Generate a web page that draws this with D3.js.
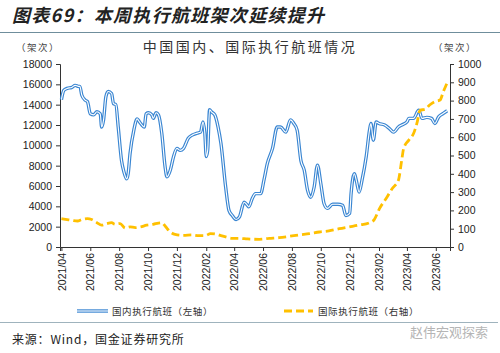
<!DOCTYPE html>
<html>
<head>
<meta charset="utf-8">
<script src="https://cdn.jsdelivr.net/npm/d3@7"></script>
<style>
  html, body { margin: 0; padding: 0; background: #fff; }
  svg { display: block; font-family: "Liberation Sans", Arial, sans-serif; }
  .cjk { font-family: "Noto Sans CJK SC", sans-serif; }
</style>
</head>
<body>
<svg id="chart" width="500" height="353"></svg>
<script>
  'use strict';

  // 国内执行航班（左轴）
  const domDates = [
    '2021-04-01', '2021-04-06', '2021-04-13', '2021-04-23', '2021-04-30', '2021-05-07', '2021-05-10',
    '2021-05-14', '2021-05-21', '2021-05-26', '2021-06-01', '2021-06-08', '2021-06-15', '2021-06-22',
    '2021-06-25', '2021-06-29', '2021-07-04', '2021-07-09', '2021-07-16', '2021-07-20', '2021-07-25',
    '2021-07-30', '2021-08-06', '2021-08-11', '2021-08-17', '2021-08-20', '2021-08-24', '2021-09-01',
    '2021-09-08', '2021-09-13', '2021-09-18', '2021-09-23', '2021-09-27', '2021-10-02', '2021-10-09',
    '2021-10-12', '2021-10-18', '2021-10-23', '2021-10-30', '2021-11-06', '2021-11-10', '2021-11-17',
    '2021-11-24', '2021-12-01', '2021-12-08', '2021-12-15', '2021-12-25', '2022-01-02', '2022-01-13',
    '2022-01-20', '2022-01-25', '2022-01-29', '2022-02-01', '2022-02-04', '2022-02-08', '2022-02-12',
    '2022-02-19', '2022-02-26', '2022-03-04', '2022-03-14', '2022-03-21', '2022-03-28', '2022-04-05',
    '2022-04-12', '2022-04-22', '2022-04-29', '2022-05-02', '2022-05-09', '2022-05-16', '2022-05-27',
    '2022-06-03', '2022-06-10', '2022-06-21', '2022-07-01', '2022-07-08', '2022-07-19', '2022-07-29',
    '2022-08-05', '2022-08-12', '2022-08-20', '2022-08-27', '2022-09-03', '2022-09-10', '2022-09-17',
    '2022-09-24', '2022-10-01', '2022-10-08', '2022-10-15', '2022-10-26', '2022-11-06', '2022-11-16',
    '2022-11-23', '2022-12-01', '2022-12-04', '2022-12-11', '2022-12-15', '2022-12-21', '2022-12-27',
    '2023-01-05', '2023-01-12', '2023-01-15', '2023-01-20', '2023-01-26', '2023-02-01', '2023-02-13',
    '2023-02-23', '2023-03-04', '2023-03-14', '2023-03-21', '2023-04-01', '2023-04-05', '2023-04-15',
    '2023-04-26', '2023-05-03', '2023-05-13', '2023-05-23', '2023-05-30', '2023-06-07', '2023-06-17',
    '2023-06-25'
  ];
  const domValues = [
    14500, 15400, 15600, 15700, 15900, 15800, 15800,
    14950, 14450, 14300, 13100, 13000, 13300, 13100,
    11800, 12500, 14800, 15300, 15100, 14100, 14000,
    11800, 8500, 7400, 6700, 7200, 9200, 11500,
    12600, 12300, 12000, 11800, 13100, 13200, 13000,
    12650, 13200, 13000, 11200, 7900, 6900, 7550,
    8900, 9700, 9500, 9700, 10700, 11000, 11200,
    11300, 12300, 11200, 8900, 9500, 13500, 13300,
    13000, 11800, 10200, 5900, 3600, 3100, 2700,
    2950, 4400, 4100, 3950, 4750, 5250, 5250,
    6600, 8200, 9700, 11800, 11800, 11300, 12500,
    12150, 11500, 8500, 7550, 5600, 4900, 5900,
    8050, 6250, 4250, 3800, 4200, 4200, 4100,
    3100, 3300, 5250, 7200, 6550, 5400, 6550,
    8900, 11500, 12150, 10500, 12300, 12150, 12000,
    11650, 11300, 11800, 12000, 12300, 12650, 12650,
    13450, 12650, 12750, 12650, 12150, 12800, 13150,
    13400
  ];

  // 国际执行航班（右轴）
  const intDates = [
    '2021-04-01', '2021-04-13', '2021-04-23', '2021-05-05', '2021-05-14', '2021-05-26', '2021-06-04',
    '2021-06-15', '2021-06-25', '2021-07-06', '2021-07-16', '2021-07-23', '2021-08-03', '2021-08-14',
    '2021-08-24', '2021-09-04', '2021-09-15', '2021-09-28', '2021-10-12', '2021-10-23', '2021-10-30',
    '2021-11-06', '2021-11-17', '2021-11-27', '2021-12-15', '2022-01-02', '2022-01-16', '2022-01-30',
    '2022-02-10', '2022-02-24', '2022-03-04', '2022-03-14', '2022-03-28', '2022-04-12', '2022-04-29',
    '2022-05-24', '2022-06-14', '2022-07-05', '2022-07-26', '2022-08-16', '2022-09-07', '2022-09-28',
    '2022-10-18', '2022-11-09', '2022-11-30', '2022-12-21', '2023-01-12', '2023-01-22', '2023-02-02',
    '2023-02-16', '2023-03-01', '2023-03-14', '2023-03-21', '2023-03-25', '2023-04-05', '2023-04-15',
    '2023-04-22', '2023-04-29', '2023-05-09', '2023-05-19', '2023-05-30', '2023-06-10', '2023-06-17',
    '2023-06-25'
  ];
  const intValues = [
    155, 150, 146, 142, 150, 155, 150,
    133, 119, 128, 133, 124, 128, 104,
    110, 106, 110, 119, 124, 131, 133,
    115, 82, 69, 64, 66, 62, 62,
    73, 69, 62, 55, 47, 47, 44,
    42, 47, 51, 58, 66, 73, 82,
    88, 100, 110, 120, 133, 150, 210,
    265, 320, 365, 475, 538, 584, 620,
    675, 748, 752, 776, 794, 803, 849,
    898
  ];

  const tickDates = [
    '2021-04-01', '2021-06-01', '2021-08-01', '2021-10-01', '2021-12-01', '2022-02-01', '2022-04-01',
    '2022-06-01', '2022-08-01', '2022-10-01', '2022-12-01', '2023-02-01', '2023-04-01', '2023-06-01'
  ];
  const leftTicks = [0, 2000, 4000, 6000, 8000, 10000, 12000, 14000, 16000, 18000];
  const rightTicks = [0, 100, 200, 300, 400, 500, 600, 700, 800, 900, 1000];

  const parse = d3.timeParse('%Y-%m-%d');
  const domSeries = domDates.map(function (d, i) { return { date: parse(d), value: domValues[i] }; });
  const intSeries = intDates.map(function (d, i) { return { date: parse(d), value: intValues[i] }; });

  const svg = d3.select('#chart');
  const plotLeft = 60, plotRight = 450, plotTop = 64, plotBottom = 247;

  const x = d3.scaleTime()
    .domain([parse('2021-03-29'), parse('2023-07-01')])
    .range([plotLeft, plotRight]);
  const yL = d3.scaleLinear().domain([0, 18000]).range([plotBottom, plotTop]);
  const yR = d3.scaleLinear().domain([0, 1000]).range([plotBottom, plotTop]);

  const BLUE = '#3a86d2';
  const GOLD = '#ffc000';
  const LINE = '#6f8e9c';

  // header
  svg.append('text')
    .attr('class', 'cjk')
    .attr('x', 12).attr('y', 22)
    .attr('font-size', 18).attr('font-weight', 'bold').attr('font-style', 'italic')
    .attr('letter-spacing', 1.3)
    .attr('fill', '#222')
    .text('图表69：本周执行航班架次延续提升');
  svg.append('line')
    .attr('x1', 0).attr('x2', 500).attr('y1', 32.5).attr('y2', 32.5)
    .attr('stroke', LINE).attr('stroke-width', 1.2);

  svg.append('text')
    .attr('class', 'cjk')
    .attr('x', 250).attr('y', 52).attr('text-anchor', 'middle')
    .attr('font-size', 14).attr('letter-spacing', 2.5)
    .attr('fill', '#333')
    .text('中国国内、国际执行航班情况');
  svg.append('text')
    .attr('class', 'cjk')
    .attr('x', 16).attr('y', 51)
    .attr('font-size', 9.5).attr('letter-spacing', 1.5).attr('fill', '#444')
    .text('（架次）');
  svg.append('text')
    .attr('class', 'cjk')
    .attr('x', 433).attr('y', 51)
    .attr('font-size', 9.5).attr('letter-spacing', 1.5).attr('fill', '#444')
    .text('（架次）');

  // axes
  const axisL = svg.append('g')
    .attr('transform', 'translate(' + plotLeft + ',0)')
    .call(d3.axisLeft(yL).tickValues(leftTicks).tickSize(4).tickPadding(4).tickFormat(d3.format('d')));
  const axisR = svg.append('g')
    .attr('transform', 'translate(' + plotRight + ',0)')
    .call(d3.axisRight(yR).tickValues(rightTicks).tickSize(4).tickPadding(4).tickFormat(d3.format('d')));
  const axisB = svg.append('g')
    .attr('transform', 'translate(0,' + plotBottom + ')')
    .call(d3.axisBottom(x).tickValues(tickDates.map(parse)).tickSize(4).tickFormat(d3.timeFormat('%Y/%m')));

  [axisL, axisR, axisB].forEach(function (a) {
    a.select('.domain').attr('stroke', '#333').attr('stroke-width', 1);
    a.selectAll('.tick line').attr('stroke', '#333');
    a.selectAll('.tick text').attr('fill', '#222').attr('font-size', 10.5)
      .attr('font-family', '"Liberation Sans", Arial, sans-serif');
  });
  axisB.selectAll('.tick text')
    .attr('transform', 'rotate(-90)')
    .attr('text-anchor', 'end')
    .attr('x', -6).attr('y', 0).attr('dy', '0.35em');

  // lines
  const lineDom = d3.line()
    .x(function (d) { return x(d.date); })
    .y(function (d) { return yL(d.value); })
    .curve(d3.curveMonotoneX);
  const lineInt = d3.line()
    .x(function (d) { return x(d.date); })
    .y(function (d) { return yR(d.value); })
    .curve(d3.curveMonotoneX);

  svg.append('path').datum(domSeries)
    .attr('d', lineDom).attr('fill', 'none')
    .attr('stroke', BLUE).attr('stroke-width', 3.4).attr('stroke-linejoin', 'round');
  svg.append('path').datum(domSeries)
    .attr('d', lineDom).attr('fill', 'none')
    .attr('stroke', '#fff').attr('stroke-width', 1.1).attr('stroke-linejoin', 'round');

  svg.append('path').datum(intSeries)
    .attr('d', lineInt).attr('fill', 'none')
    .attr('stroke', GOLD).attr('stroke-width', 2.8)
    .attr('stroke-dasharray', '8,4');

  // legend
  const lg = svg.append('g');
  lg.append('line').attr('x1', 77).attr('x2', 108).attr('y1', 311).attr('y2', 311)
    .attr('stroke', BLUE).attr('stroke-width', 3.4);
  lg.append('line').attr('x1', 77).attr('x2', 108).attr('y1', 311).attr('y2', 311)
    .attr('stroke', '#fff').attr('stroke-width', 1.1);
  lg.append('text').attr('class', 'cjk')
    .attr('x', 112).attr('y', 315).attr('font-size', 9.5).attr('letter-spacing', 0.6).attr('fill', '#333')
    .text('国内执行航班（左轴）');
  lg.append('line').attr('x1', 284).attr('x2', 313).attr('y1', 311).attr('y2', 311)
    .attr('stroke', GOLD).attr('stroke-width', 2.8).attr('stroke-dasharray', '8,4');
  lg.append('text').attr('class', 'cjk')
    .attr('x', 318).attr('y', 315).attr('font-size', 9.5).attr('letter-spacing', 0.6).attr('fill', '#333')
    .text('国际执行航班（右轴）');

  // footer
  svg.append('line')
    .attr('x1', 0).attr('x2', 498).attr('y1', 322.5).attr('y2', 322.5)
    .attr('stroke', '#9fb3bd').attr('stroke-width', 1);
  svg.append('text').attr('class', 'cjk')
    .attr('x', 12).attr('y', 344).attr('font-size', 12).attr('letter-spacing', 0.8).attr('fill', '#222')
    .text('来源：Wind，国金证券研究所');
  svg.append('text').attr('class', 'cjk')
    .attr('x', 410).attr('y', 337).attr('font-size', 13).attr('fill', '#b5b5b5')
    .text('赵伟宏观探索');
</script>
</body>
</html>
